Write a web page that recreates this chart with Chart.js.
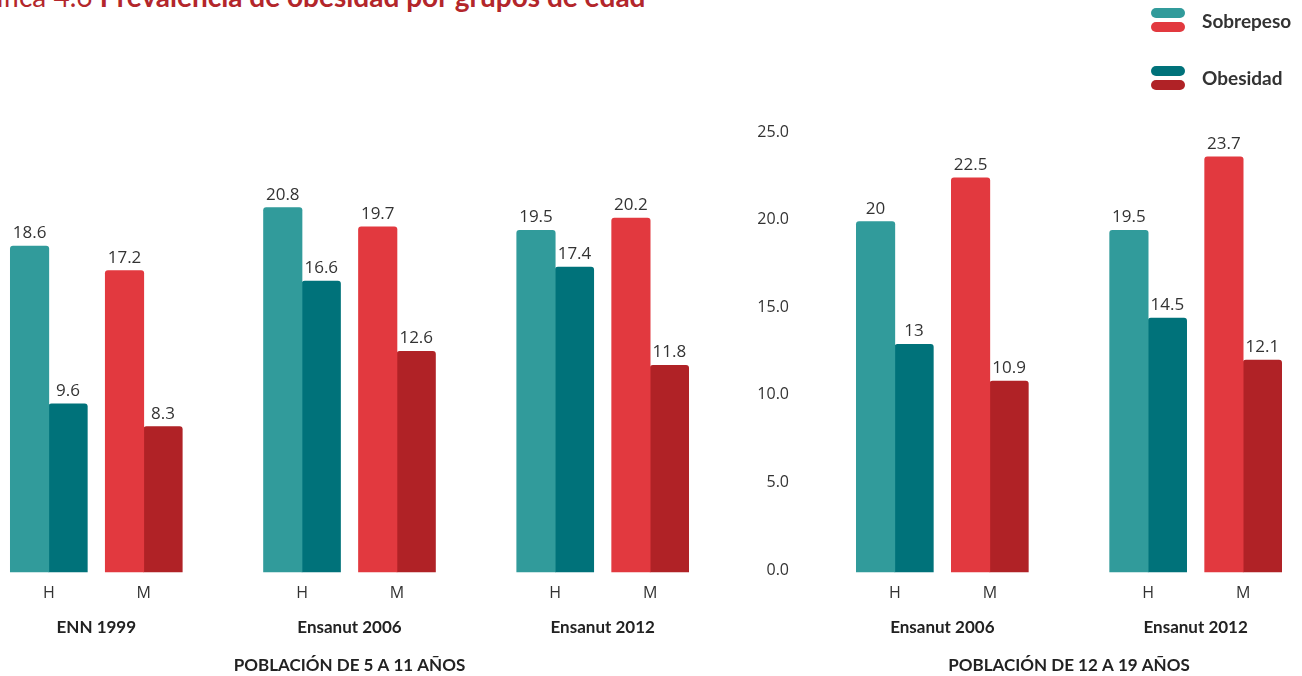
<!DOCTYPE html>
<html>
<head>
<meta charset="utf-8">
<script src="https://cdn.jsdelivr.net/npm/chart.js@4.4.1/dist/chart.umd.min.js"></script>
<style>
  body { margin: 0; background: #fff; }
  #wrap { position: relative; width: 1302px; height: 676px; overflow: hidden; }
  #title { position: absolute; left: -41px; top: -18px; font-family: Lato; font-size: 28px; line-height: 28px; color: #b3262b; white-space: nowrap; }
  #title b { font-weight: 700; }
  canvas { position: absolute; top: 0; }
  .item { position: absolute; left: 1151px; display: flex; align-items: center; font-family: Lato; font-weight: 700; font-size: 19px; color: #333; }
  .swatch { width: 34px; margin-right: 17px; }
  .swatch span { display: block; height: 10px; border-radius: 5px; }
  .swatch span + span { margin-top: 4px; }
</style>
</head>
<body>
<div id="wrap">
  <div id="title">Gráfica 4.6 <b>Prevalencia de obesidad por grupos de edad</b></div>
  <canvas id="left" width="700" height="676" style="left:0"></canvas>
  <canvas id="right" width="602" height="676" style="left:700px"></canvas>
  <div id="legend"></div>
</div>
<script>
const sexes = ['H', 'M'];
const seriesNames = ['Sobrepeso', 'Obesidad'];

const leftSurveys = ['ENN 1999', 'Ensanut 2006', 'Ensanut 2012'];
const leftSobrepeso = [18.6, 17.2, 20.8, 19.7, 19.5, 20.2];   // H, M per survey
const leftObesidad = [9.6, 8.3, 16.6, 12.6, 17.4, 11.8];
const leftTitle = 'POBLACIÓN DE 5 A 11 AÑOS';

const rightSurveys = ['Ensanut 2006', 'Ensanut 2012'];
const rightSobrepeso = [20, 22.5, 19.5, 23.7];
const rightObesidad = [13, 10.9, 14.5, 12.1];
const rightTitle = 'POBLACIÓN DE 12 A 19 AÑOS';

const yMax = 25;
const yStep = 5;

const colors = {
    Sobrepeso: { H: '#319b9b', M: '#e2393f' },
    Obesidad: { H: '#00727a', M: '#b02226' }
};

// spacer slots so H-M sit closer than survey-survey
function buildPanel(surveys, sob, obe) {
    const labels = [], d1 = [], d2 = [], groups = [];
    const blank = n => { for (let k = 0; k < n; k++) { labels.push(''); d1.push(null); d2.push(null); } };
    surveys.forEach((s, i) => {
        if (i > 0) blank(4);
        const g = { name: s, idx: [] };
        sexes.forEach((sx, j) => {
            if (j > 0) blank(2);
            g.idx.push(labels.length);
            labels.push(sx);
            d1.push(sob[i * 2 + j]);
            d2.push(obe[i * 2 + j]);
        });
        groups.push(g);
    });
    return { labels, d1, d2, groups };
}

const valueLabels = {
    id: 'valueLabels',
    afterDatasetsDraw(chart) {
        const ctx = chart.ctx;
        ctx.save();
        ctx.font = '17px "Open Sans"';
        ctx.fillStyle = '#333';
        ctx.textAlign = 'center';
        ctx.textBaseline = 'alphabetic';
        chart.data.datasets.forEach((ds, i) => {
            chart.getDatasetMeta(i).data.forEach((bar, j) => {
                const v = ds.data[j];
                if (v == null) return;
                ctx.fillText(String(v), bar.x, bar.y - 8);
            });
        });
        ctx.restore();
    }
};

const groupLabels = {
    id: 'groupLabels',
    afterDraw(chart, args, opts) {
        const ctx = chart.ctx;
        const xs = chart.scales.x;
        ctx.save();
        ctx.font = 'bold 17px Lato';
        ctx.fillStyle = '#222';
        ctx.textAlign = 'center';
        ctx.textBaseline = 'middle';
        opts.groups.forEach(g => {
            const x = (xs.getPixelForValue(g.idx[0]) + xs.getPixelForValue(g.idx[1])) / 2;
            ctx.fillText(g.name, x, chart.chartArea.bottom + 56);
        });
        ctx.restore();
    }
};

function makeChart(id, panel, title, showY, padding) {
    const barColor = name => panel.labels.map(l => l ? colors[name][l] : 'transparent');
    const yScale = {
        display: showY,
        min: 0,
        max: yMax,
        grid: { display: false, drawTicks: false },
        border: { display: false },
        ticks: { stepSize: yStep, padding: 90, labelOffset: -2, color: '#333', font: { family: 'Open Sans', size: 16 }, callback: v => v.toFixed(1) }
    };
    if (showY) yScale.afterFit = s => { s.width = 179; };
    return new Chart(document.getElementById(id), {
        type: 'bar',
        data: {
            labels: panel.labels,
            datasets: [
                { label: seriesNames[0], data: panel.d1, backgroundColor: barColor('Sobrepeso') },
                { label: seriesNames[1], data: panel.d2, backgroundColor: barColor('Obesidad') }
            ]
        },
        options: {
            responsive: false,
            animation: false,
            layout: { padding: padding },
            datasets: { bar: { barThickness: 38.5, borderRadius: 3, clip: false } },
            plugins: {
                legend: { display: false },
                tooltip: { enabled: false },
                groupLabels: { groups: panel.groups }
            },
            scales: {
                x: {
                    grid: { display: false, drawTicks: false },
                    border: { display: false },
                    ticks: { autoSkip: false, maxRotation: 0, padding: 12, color: '#333', font: { family: 'Open Sans', size: 16 } },
                    title: { display: true, text: title, color: '#222', font: { family: 'Lato', size: 17, weight: 'bold' }, padding: { top: 0, bottom: 0 } },
                    afterFit: s => { s.height = 104; }
                },
                y: yScale
            }
        },
        plugins: [valueLabels, groupLabels]
    });
}

makeChart('left', buildPanel(leftSurveys, leftSobrepeso, leftObesidad), leftTitle, false, { top: 134, left: 33, right: 34, bottom: 0 });
makeChart('right', buildPanel(rightSurveys, rightSobrepeso, rightObesidad), rightTitle, true, { top: 134, left: 0, right: 43, bottom: 0 });

// legend: two pills per series (H colour over M colour)
const legend = document.getElementById('legend');
seriesNames.forEach((name, i) => {
    const item = document.createElement('div');
    item.className = 'item';
    item.style.top = (8 + i * 57.5) + 'px';
    item.innerHTML = `<div class="swatch"><span style="background:${colors[name].H}"></span><span style="background:${colors[name].M}"></span></div>${name}`;
    legend.appendChild(item);
});
</script>
</body>
</html>
